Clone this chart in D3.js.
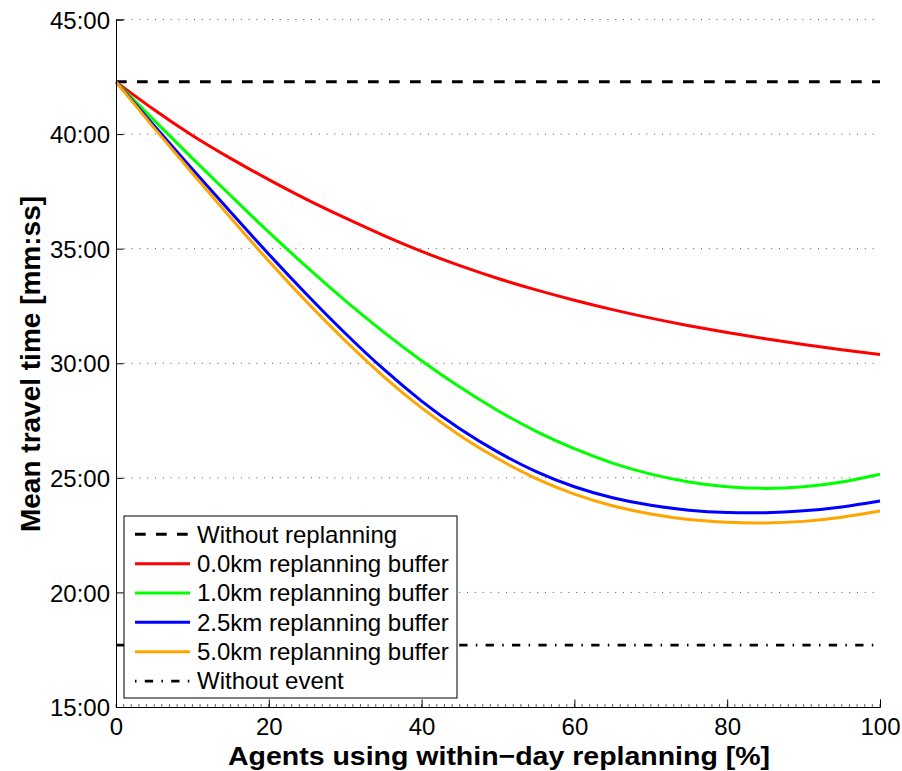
<!DOCTYPE html>
<html>
<head>
<meta charset="utf-8">
<script src="https://cdn.jsdelivr.net/npm/d3@7"></script>
<style>
  body { margin: 0; background: #fff; }
  svg { font-family: "Liberation Sans", Arial, Helvetica, sans-serif; }
</style>
</head>
<body>
<div id="chart"></div>
<script>
// agents using within-day replanning [%]
const shares = [0, 5, 10, 15, 20, 25, 30, 35, 40, 45, 50, 55, 60, 65, 70, 75, 80, 85, 90, 95, 100];

// mean travel time in minutes
const buffer00 = [42.28, 41.06, 39.94, 38.94, 38.01, 37.14, 36.34, 35.58, 34.88, 34.26, 33.70, 33.20, 32.75, 32.34, 31.97, 31.64, 31.34, 31.07, 30.82, 30.59, 30.38];
const buffer10 = [42.28, 40.60, 38.94, 37.32, 35.72, 34.19, 32.73, 31.37, 30.11, 28.96, 27.93, 27.03, 26.27, 25.64, 25.16, 24.82, 24.61, 24.54, 24.61, 24.82, 25.16];
const buffer25 = [42.28, 40.36, 38.47, 36.60, 34.76, 32.99, 31.31, 29.75, 28.35, 27.14, 26.12, 25.27, 24.61, 24.13, 23.80, 23.59, 23.49, 23.48, 23.56, 23.73, 23.99];
const buffer50 = [42.28, 40.26, 38.29, 36.35, 34.46, 32.66, 30.98, 29.43, 28.05, 26.85, 25.83, 24.97, 24.29, 23.78, 23.42, 23.18, 23.06, 23.03, 23.10, 23.28, 23.55];

const withoutReplanning = 42.28;
const withoutEvent = 17.7;

const yTicks = [15, 20, 25, 30, 35, 40, 45];
const xTicks = [0, 20, 40, 60, 80, 100];

const legendLabels = [
  "Without replanning",
  "0.0km replanning buffer",
  "1.0km replanning buffer",
  "2.5km replanning buffer",
  "5.0km replanning buffer",
  "Without event"
];

const width = 902, height = 771;
const plotLeft = 116, plotRight = 880, plotTop = 19.5, plotBottom = 707;

const x = d3.scaleLinear().domain([0, 100]).range([plotLeft, plotRight]);
const y = d3.scaleLinear().domain([15, 45]).range([plotBottom, plotTop]);

const fmt = m => String(Math.floor(m)).padStart(2, "0") + ":" + String(Math.round((m % 1) * 60)).padStart(2, "0");

const svg = d3.select("#chart").append("svg")
  .attr("width", width)
  .attr("height", height);

// dotted horizontal grid
svg.append("g")
  .selectAll("line")
  .data(yTicks.slice(1))
  .enter()
  .append("line")
  .attr("x1", plotLeft).attr("x2", plotRight)
  .attr("y1", d => y(d)).attr("y2", d => y(d))
  .attr("stroke", "#555")
  .attr("stroke-width", 1)
  .attr("stroke-dasharray", "1,6.8");

const series = [
  { values: buffer00, color: "#ff0000" },
  { values: buffer10, color: "#00ff00" },
  { values: buffer25, color: "#0000ff" },
  { values: buffer50, color: "#ffa500" }
];

// reference lines
svg.append("line")
  .attr("x1", x(0)).attr("x2", x(100))
  .attr("y1", y(withoutReplanning)).attr("y2", y(withoutReplanning))
  .attr("stroke", "#000").attr("stroke-width", 3)
  .attr("stroke-dasharray", "10.7,10.3");

svg.append("line")
  .attr("x1", x(0)).attr("x2", x(100))
  .attr("y1", y(withoutEvent)).attr("y2", y(withoutEvent))
  .attr("stroke", "#000").attr("stroke-width", 2.7)
  .attr("stroke-dasharray", "8.3,8.3,1.5,8.3");

const line = d3.line()
  .x((d, i) => x(shares[i]))
  .y(d => y(d))
  .curve(d3.curveNatural);

svg.append("g")
  .selectAll("path")
  .data(series)
  .enter()
  .append("path")
  .attr("d", d => line(d.values))
  .attr("fill", "none")
  .attr("stroke", d => d.color)
  .attr("stroke-width", 3);

// axes
const yAxis = d3.axisLeft(y).tickValues(yTicks).tickSize(-7.5).tickPadding(6).tickFormat(fmt);
const gy = svg.append("g").attr("transform", `translate(${plotLeft},0)`).call(yAxis);
gy.select(".domain").attr("stroke", "#000");
gy.selectAll(".tick text")
  .attr("x", -6)
  .attr("dy", "0.36em")
  .style("font-size", "24px")
  .attr("fill", "#000");

const xMinor = d3.range(0, 101, 1);
svg.append("g")
  .selectAll("line")
  .data(xMinor)
  .enter()
  .append("line")
  .attr("x1", d => x(d)).attr("x2", d => x(d))
  .attr("y1", plotBottom).attr("y2", plotBottom - 3)
  .attr("stroke", "#000").attr("stroke-width", 0.6);

const xAxis = d3.axisBottom(x).tickValues(xTicks).tickSize(-7.5).tickFormat(d3.format("d"));
const gx = svg.append("g").attr("transform", `translate(0,${plotBottom})`).call(xAxis);
gx.select(".domain").attr("stroke", "#000");
gx.selectAll(".tick text")
  .attr("y", 0)
  .attr("dy", "27.5px")
  .style("font-size", "24px")
  .attr("fill", "#000");

// axis titles
svg.append("text")
  .attr("x", (plotLeft + plotRight) / 2 + 1)
  .attr("y", 765)
  .attr("text-anchor", "middle")
  .attr("textLength", 542)
  .attr("lengthAdjust", "spacingAndGlyphs")
  .style("font-size", "26px")
  .style("font-weight", "bold")
  .text("Agents using within\u2212day replanning [%]");

svg.append("text")
  .attr("transform", "translate(40,364) rotate(-90)")
  .attr("text-anchor", "middle")
  .style("font-size", "28px")
  .style("font-weight", "bold")
  .text("Mean travel time [mm:ss]");

// legend
const legend = svg.append("g");
legend.append("rect")
  .attr("x", 124).attr("y", 516)
  .attr("width", 333).attr("height", 182)
  .attr("fill", "#fff").attr("stroke", "#000").attr("stroke-width", 1);

const legendStyles = [
  { color: "#000", dash: "10.7,10.3", w: 3 },
  { color: "#ff0000", dash: null, w: 3 },
  { color: "#00ff00", dash: null, w: 3 },
  { color: "#0000ff", dash: null, w: 3 },
  { color: "#ffa500", dash: null, w: 3 },
  { color: "#000", dash: "1.5,8.3,8.3,8.3", w: 2.7 }
];

const rows = legend.selectAll(".legend-entry")
  .data(legendLabels)
  .enter()
  .append("g")
  .attr("class", "legend-entry")
  .attr("transform", (d, i) => `translate(0,${534.3 + i * 29.35})`);

rows.append("line")
  .attr("x1", 135).attr("x2", 190)
  .attr("y1", 0).attr("y2", 0)
  .attr("stroke", (d, i) => legendStyles[i].color)
  .attr("stroke-width", (d, i) => legendStyles[i].w)
  .attr("stroke-dasharray", (d, i) => legendStyles[i].dash);

rows.append("text")
  .attr("x", 197)
  .attr("y", 0)
  .attr("dy", "0.35em")
  .style("font-size", "24px")
  .text(d => d);
</script>
</body>
</html>
